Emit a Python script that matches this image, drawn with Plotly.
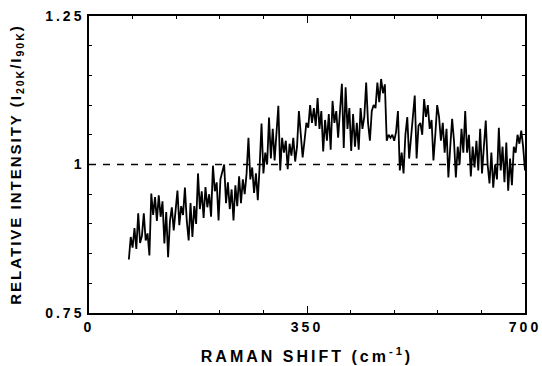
import plotly.graph_objects as go

x_start = 64
x_step = 3
intensity = [
    0.840, 0.878, 0.860, 0.893, 0.858, 0.918, 0.868, 0.880, 0.918, 0.872,
    0.884, 0.847, 0.951, 0.915, 0.945, 0.905, 0.948, 0.912, 0.938, 0.867,
    0.920, 0.844, 0.905, 0.928, 0.889, 0.925, 0.956, 0.898, 0.930, 0.915,
    0.961, 0.905, 0.872, 0.935, 0.878, 0.930, 0.900, 0.985, 0.925, 0.955,
    0.910, 0.962, 0.928, 0.950, 0.912, 0.998, 0.955, 0.970, 0.906, 0.975,
    0.990, 1.000, 0.935, 0.970, 0.925, 0.958, 0.906, 0.965, 0.930, 0.980,
    0.935, 0.975, 0.950, 0.985, 1.045, 0.975, 0.995, 0.952, 0.985, 0.940,
    0.998, 1.069, 0.985, 1.020, 1.000, 1.079, 1.010, 1.060, 1.007, 1.050,
    1.099, 0.990, 1.045, 1.020, 1.040, 0.992, 1.035, 1.015, 1.045, 1.005,
    1.030, 1.090, 1.050, 1.012, 1.040, 1.070, 1.062, 1.100, 1.070, 1.095,
    1.065, 1.112, 1.060, 1.090, 1.022, 1.075, 1.040, 1.085, 1.025, 1.107,
    1.070, 1.090, 1.045, 1.100, 1.136, 1.028, 1.130, 1.060, 1.095, 1.023,
    1.085, 1.030, 1.070, 1.025, 1.095, 1.060, 1.080, 1.138, 1.070, 1.040,
    1.090, 1.100, 1.095, 1.138, 1.105, 1.144, 1.120, 1.135, 1.040, 1.050,
    1.045, 1.050, 1.040, 1.055, 1.090, 0.990, 1.020, 0.985, 1.050, 1.080,
    1.010, 1.045, 1.085, 1.116, 1.010, 1.065, 1.070, 1.050, 1.110, 1.080,
    1.100, 1.060, 1.075, 1.007, 1.050, 1.100, 1.080, 1.040, 1.070, 1.020,
    1.060, 0.978, 1.030, 1.077, 1.040, 0.978, 1.030, 1.000, 1.060, 1.020,
    1.090, 1.020, 1.050, 0.980, 1.030, 0.995, 1.040, 0.990, 1.060, 0.985,
    1.030, 1.074, 1.000, 0.968, 1.020, 0.961, 1.000, 0.975, 1.062, 0.990,
    1.030, 0.970, 1.037, 0.956, 1.010, 0.965, 1.030, 1.020, 1.050, 1.035,
    1.057, 1.030, 0.990,
]
raman_shift = [x_start + i * x_step for i in range(len(intensity))]

ref_x = [0, 700]
ref_y = [1, 1]

x_ticks = [0, 350, 700]
x_ticklabels = ["0", "350", "700"]
y_ticks = [0.75, 1, 1.25]
y_ticklabels = ["0.75", "1", "1.25"]

FONT = "Liberation Sans, Arial, sans-serif"


def spaced(text, px):
    return f'<span style="letter-spacing:{px}px">{text}</span>'


fig = go.Figure()
fig.add_trace(go.Scatter(x=ref_x, y=ref_y, mode="lines",
                         line=dict(color="black", width=1.3, dash="7px,7px"),
                         hoverinfo="skip", showlegend=False))
fig.add_trace(go.Scatter(x=raman_shift, y=intensity, mode="lines",
                         line=dict(color="black", width=1.8),
                         showlegend=False))

axis_common = dict(
    showline=True, linecolor="black", linewidth=1.5, mirror="ticks",
    ticks="inside", ticklen=7, tickwidth=1.2, tickcolor="black",
    showgrid=False, zeroline=False, automargin=False,
    tickfont=dict(family=FONT, size=14, color="black", weight="bold"),
)

fig.update_xaxes(
    range=[0, 700], tickmode="array", tickvals=x_ticks,
    ticktext=[spaced(t, 3) for t in x_ticklabels],
    minor=dict(dtick=70, ticks="inside", ticklen=3, tickwidth=1, tickcolor="black"),
    title=dict(text="<b>" + spaced("RAMAN SHIFT (cm<sup>-1</sup>)", 3) + "</b>",
               font=dict(family=FONT, size=16, color="black"), standoff=17),
    **axis_common,
)
fig.update_yaxes(
    range=[0.75, 1.25], tickmode="array", tickvals=y_ticks,
    ticktext=[spaced(t, 3) for t in y_ticklabels],
    minor=dict(dtick=0.05, ticks="inside", ticklen=3, tickwidth=1, tickcolor="black"),
    title=dict(text="<b>" + spaced("RELATIVE INTENSITY (I<sub>20K</sub>/I<sub>90K</sub>)", 2) + "</b>",
               font=dict(family=FONT, size=15, color="black"), standoff=20),
    **axis_common,
)

fig.update_layout(
    width=542, height=366,
    margin=dict(l=89, r=17, t=16, b=53),
    paper_bgcolor="white", plot_bgcolor="white",
    font=dict(family=FONT, color="black"),
)

fig.write_html("out.html")
